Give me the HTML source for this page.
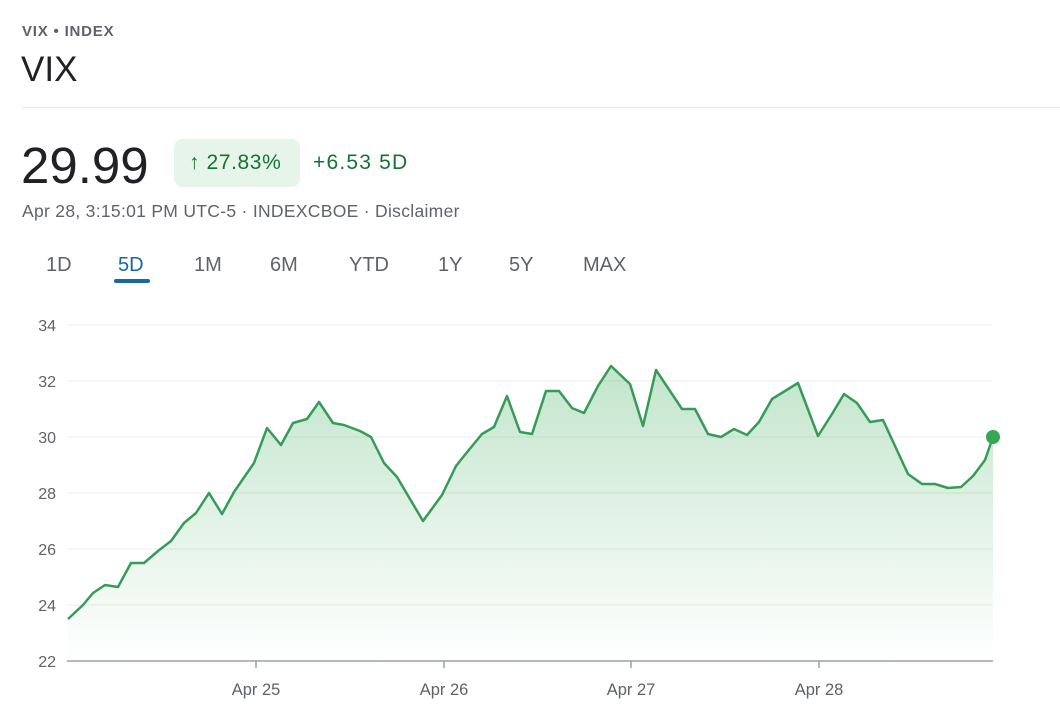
<!DOCTYPE html>
<html><head><meta charset="utf-8"><style>
body{margin:0;background:#fff;width:1060px;height:724px;overflow:hidden;font-family:"Liberation Sans",Arial,sans-serif;position:relative}
.a{position:absolute;white-space:nowrap}
</style></head><body>
<div class="a" style="left:22px;top:23px;font-size:15px;color:#5f6368;letter-spacing:0.8px;font-weight:bold">VIX • INDEX</div>
<div class="a" style="left:21px;top:50px;font-size:35px;color:#202124">VIX</div>
<div class="a" style="left:22px;top:107px;width:1038px;height:1px;background:#e4e4e4"></div>
<div class="a" style="left:21px;top:136px;font-size:51px;color:#202124">29.99</div>
<div class="a" style="left:174px;top:139px;width:126px;height:48px;background:#e6f4ea;border-radius:9px"></div>
<div class="a" style="left:189px;top:151px;font-size:21px;color:#137333;letter-spacing:0.6px">↑ 27.83%</div>
<div class="a" style="left:313px;top:151px;font-size:21px;color:#137333;letter-spacing:1.2px">+6.53 5D</div>
<div class="a" style="left:22px;top:201px;font-size:17.5px;color:#5f6368;letter-spacing:0.3px">Apr 28, 3:15:01 PM UTC-5 · INDEXCBOE · Disclaimer</div>
<div class="a" style="top:254px;left:0;font-size:20px;color:#5f6368">
<span class="a" style="left:46px">1D</span><span class="a" style="left:118px;color:#1967a3">5D</span><span class="a" style="left:194px">1M</span><span class="a" style="left:270px">6M</span><span class="a" style="left:349px">YTD</span><span class="a" style="left:438px">1Y</span><span class="a" style="left:509px">5Y</span><span class="a" style="left:583px">MAX</span></div>
<div class="a" style="left:114px;top:279px;width:36px;height:4px;background:#1967a3;border-radius:2px"></div>
<svg class="a" style="left:0;top:0" width="1060" height="724">
<defs><linearGradient id="g" gradientUnits="userSpaceOnUse" x1="0" y1="366" x2="0" y2="661"><stop offset="0" stop-color="#34a853" stop-opacity="0.3"/><stop offset="1" stop-color="#34a853" stop-opacity="0"/></linearGradient></defs>
<g stroke="#ececec" stroke-width="1">
<line x1="67" x2="993" y1="325" y2="325"/><line x1="67" x2="993" y1="381" y2="381"/><line x1="67" x2="993" y1="437" y2="437"/><line x1="67" x2="993" y1="493" y2="493"/><line x1="67" x2="993" y1="549" y2="549"/><line x1="67" x2="993" y1="605" y2="605"/></g>
<g font-size="16" fill="#5f6368" text-anchor="end">
<text x="56" y="331">34</text><text x="56" y="387">32</text><text x="56" y="443">30</text><text x="56" y="499">28</text><text x="56" y="555">26</text><text x="56" y="611">24</text><text x="56" y="667">22</text></g>
<path fill="url(#g)" d="M68,619 L83,605 93,593 105,585 118,587 131,563 144,563 158,551 171,541 184,523 196,513 209,493 222,514 234,492 254,463 267,428 281,445 293,423 307,419 319,402 333,423 344,425 360,431 371,437 384,463 397,477 423,521 442,495 456,466 468,451 482,434 494,427 507,396 520,432 532,434 546,391 559,391 572,408 584,413 598,386 611,366 630,384 643,426 656,370 682,409 695,409 708,434 721,437 734,429 747,435 759,422 772,399 798,383 818,436 832,414 844,394 857,403 870,422 883,420 908,474 922,484 935,484 948,488 961,487 973,476 985,460 993,437 L993,661 L68,661 Z"/>
<path fill="none" stroke="#379b58" stroke-width="2.5" stroke-linejoin="round" d="M68,619 L83,605 93,593 105,585 118,587 131,563 144,563 158,551 171,541 184,523 196,513 209,493 222,514 234,492 254,463 267,428 281,445 293,423 307,419 319,402 333,423 344,425 360,431 371,437 384,463 397,477 423,521 442,495 456,466 468,451 482,434 494,427 507,396 520,432 532,434 546,391 559,391 572,408 584,413 598,386 611,366 630,384 643,426 656,370 682,409 695,409 708,434 721,437 734,429 747,435 759,422 772,399 798,383 818,436 832,414 844,394 857,403 870,422 883,420 908,474 922,484 935,484 948,488 961,487 973,476 985,460 993,437"/>
<circle cx="993" cy="437" r="7" fill="#34a853"/>
<line x1="67" x2="993" y1="661" y2="661" stroke="#9aa0a6" stroke-width="1.5"/>
<g stroke="#9aa0a6" stroke-width="1.5"><line x1="256" x2="256" y1="661" y2="668"/><line x1="444" x2="444" y1="661" y2="668"/><line x1="631" x2="631" y1="661" y2="668"/><line x1="819" x2="819" y1="661" y2="668"/></g>
<g font-size="16.5" fill="#5f6368" text-anchor="middle"><text x="256" y="695">Apr 25</text><text x="444" y="695">Apr 26</text><text x="631" y="695">Apr 27</text><text x="819" y="695">Apr 28</text></g>
</svg>
</body></html>
